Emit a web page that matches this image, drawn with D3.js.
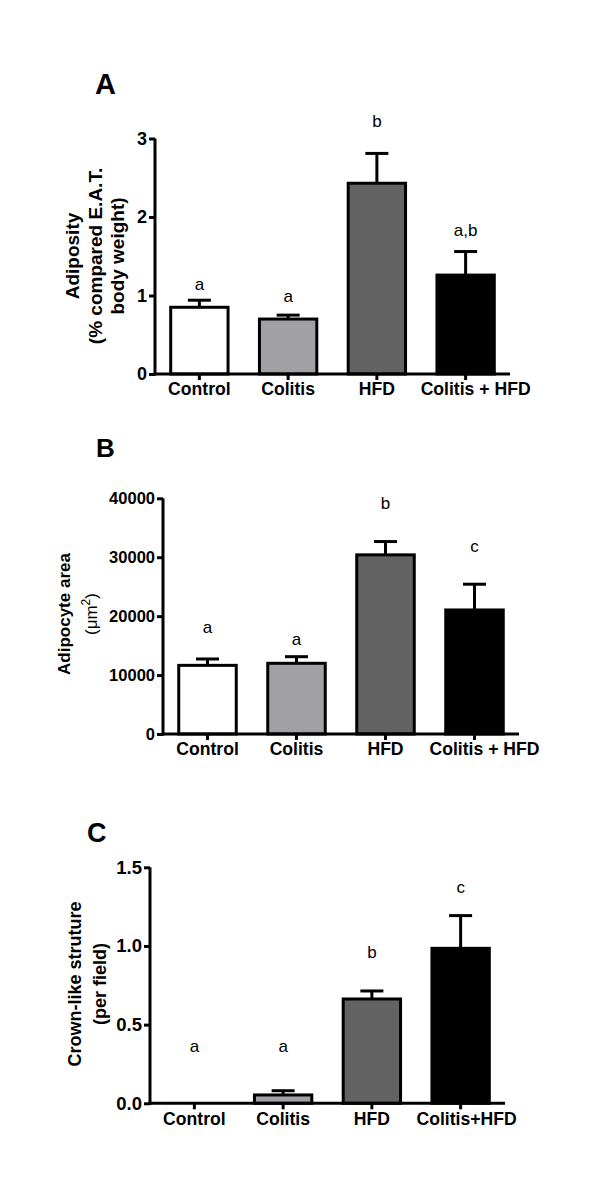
<!DOCTYPE html>
<html>
<head>
<meta charset="utf-8">
<script src="https://cdn.jsdelivr.net/npm/d3@7"></script>
<style>
  html, body { margin: 0; padding: 0; background: #fff; }
  svg { display: block; }
  text { font-family: "Liberation Sans", Arial, sans-serif; fill: #000; }
</style>
</head>
<body>
<svg id="chart" width="600" height="1199"></svg>
<script>
// ---- Data ----
const categoriesAB = ["Control", "Colitis", "HFD", "Colitis + HFD"];
const categoriesC = ["Control", "Colitis", "HFD", "Colitis+HFD"];
const barColors = ["#ffffff", "#a1a1a5", "#636363", "#000000"];

// Panel A: Adiposity (% compared E.A.T. body weight)
const adiposityMean = [0.85, 0.70, 2.43, 1.26];
const adiposityErr  = [0.09, 0.05, 0.38, 0.30];
const adiposityLetters = ["a", "a", "b", "a,b"];
const adiposityLetterY = [1.07, 0.92, 3.15, 1.76];
const adiposityTicks = [0, 1, 2, 3];

// Panel B: Adipocyte area (µm²)
const areaMean = [11650, 12000, 30400, 21050];
const areaErr  = [1080, 1120, 2260, 4370];
const areaLetters = ["a", "a", "b", "c"];
const areaLetterY = [17100, 15100, 38150, 30950];
const areaTicks = [0, 10000, 20000, 30000, 40000];

// Panel C: Crown-like structure (per field)
const crownMean = [0.0, 0.053, 0.663, 0.985];
const crownErr  = [0.0, 0.027, 0.051, 0.208];
const crownLetters = ["a", "a", "b", "c"];
const crownLetterY = [0.328, 0.328, 0.922, 1.335];
const crownTicks = [0, 0.5, 1.0, 1.5];

// ---- Drawing ----
const svg = d3.select("#chart");

function panel(cfg) {
  const g = svg.append("g");
  const x = d3.scaleBand().domain(cfg.cats).range([cfg.x0, cfg.x1]).paddingInner(0.32).paddingOuter(0.16);
  const y = d3.scaleLinear().domain([0, cfg.ymax]).range([cfg.y0, cfg.y1]);

  // panel letter
  g.append("text").attr("x", cfg.titleX).attr("y", cfg.titleY)
    .attr("font-size", cfg.titleSize).attr("font-weight", "bold").text(cfg.title);

  // bars
  cfg.cats.forEach((c, i) => {
    const v = cfg.mean[i];
    if (v > 0) {
      g.append("rect")
        .attr("x", x(c) + 1.5).attr("width", x.bandwidth() - 3)
        .attr("y", y(v)).attr("height", y(0) - y(v))
        .attr("fill", barColors[i]).attr("stroke", "#000").attr("stroke-width", 3);
    }
    const cx = x(c) + x.bandwidth() / 2;
    if (cfg.err[i] > 0) {
      const top = y(v + cfg.err[i]);
      g.append("line").attr("x1", cx).attr("x2", cx).attr("y1", y(v)).attr("y2", top)
        .attr("stroke", "#000").attr("stroke-width", 3);
      g.append("line").attr("x1", cx - 11.5).attr("x2", cx + 11.5).attr("y1", top).attr("y2", top)
        .attr("stroke", "#000").attr("stroke-width", 3);
    }
    g.append("text").attr("x", cx).attr("y", y(cfg.letterY[i]))
      .attr("text-anchor", "middle").attr("font-size", 17).text(cfg.letters[i]);
  });

  // y axis
  const ya = g.append("g").attr("transform", `translate(${cfg.x0},0)`)
    .call(d3.axisLeft(y).tickValues(cfg.ticks).tickFormat(cfg.fmt).tickSize(6).tickPadding(2));
  ya.select(".domain").attr("stroke-width", 3).attr("d", `M0,${cfg.y0 + 1.5}V${cfg.y1}`);
  ya.selectAll(".tick line").attr("stroke-width", 3);
  ya.selectAll(".tick text").attr("font-size", cfg.tickSize).attr("font-weight", "bold")
    .attr("font-family", "Liberation Sans, Arial, sans-serif").attr("fill", "#000");

  // x axis
  const xa = g.append("g").attr("transform", `translate(0,${cfg.y0})`)
    .call(d3.axisBottom(x).tickSize(6).tickPadding(3));
  xa.select(".domain").attr("stroke-width", 3).attr("d", `M${cfg.x0 - 1.5},0H${cfg.x1}`);
  xa.selectAll(".tick line").attr("stroke-width", 3);
  xa.selectAll(".tick text").attr("font-size", 17.6).attr("font-weight", "bold")
    .attr("font-family", "Liberation Sans, Arial, sans-serif").attr("fill", "#000")
    .attr("dx", (d, i) => i === cfg.cats.length - 1 ? cfg.lastDx : 0);

  // y label
  const lab = g.append("text").attr("transform", `translate(${cfg.labX},${cfg.labY}) rotate(-90)`)
    .attr("text-anchor", "middle").attr("font-size", cfg.labSize).attr("font-weight", "bold");
  cfg.label(lab);
}

panel({
  cats: categoriesAB, mean: adiposityMean, err: adiposityErr,
  letters: adiposityLetters, letterY: adiposityLetterY, ticks: adiposityTicks,
  fmt: d3.format("d"), ymax: 3, tickSize: 18, labSize: 19, lastDx: 10,
  x0: 155, x1: 510, y0: 374, y1: 138.5,
  title: "A", titleX: 95, titleY: 94, titleSize: 29,
  labX: 79, labY: 256,
  label: t => {
    t.append("tspan").attr("x", 0).attr("dy", 0).text("Adiposity");
    t.append("tspan").attr("x", 0).attr("dy", 23).text("(% compared E.A.T.");
    t.append("tspan").attr("x", 0).attr("dy", 22).text("body weight)");
  }
});

panel({
  cats: categoriesAB, mean: areaMean, err: areaErr,
  letters: areaLetters, letterY: areaLetterY, ticks: areaTicks,
  fmt: d3.format("d"), ymax: 40000, tickSize: 16.5, labSize: 17, lastDx: 10,
  x0: 163, x1: 519, y0: 734, y1: 498.3,
  title: "B", titleX: 96, titleY: 457, titleSize: 26,
  labX: 70, labY: 614,
  label: t => {
    t.append("tspan").attr("x", 0).attr("dy", 0).text("Adipocyte area");
    t.append("tspan").attr("x", 0).attr("dy", 27).attr("font-weight", "normal").text("(\u03bcm");
    t.append("tspan").attr("font-weight", "normal").attr("font-size", 12).attr("dy", -7).text("2");
    t.append("tspan").attr("font-weight", "normal").attr("dy", 7).text(")");
  }
});

panel({
  cats: categoriesC, mean: crownMean, err: crownErr,
  letters: crownLetters, letterY: crownLetterY, ticks: crownTicks,
  fmt: d3.format(".1f"), ymax: 1.5, tickSize: 18.5, labSize: 18, lastDx: 6,
  x0: 150, x1: 505, y0: 1103.3, y1: 867.3,
  title: "C", titleX: 87, titleY: 842, titleSize: 27,
  labX: 81, labY: 984,
  label: t => {
    t.append("tspan").attr("x", 0).attr("dy", 0).text("Crown-like struture");
    t.append("tspan").attr("x", 0).attr("dy", 25).text("(per field)");
  }
});
</script>
</body>
</html>
